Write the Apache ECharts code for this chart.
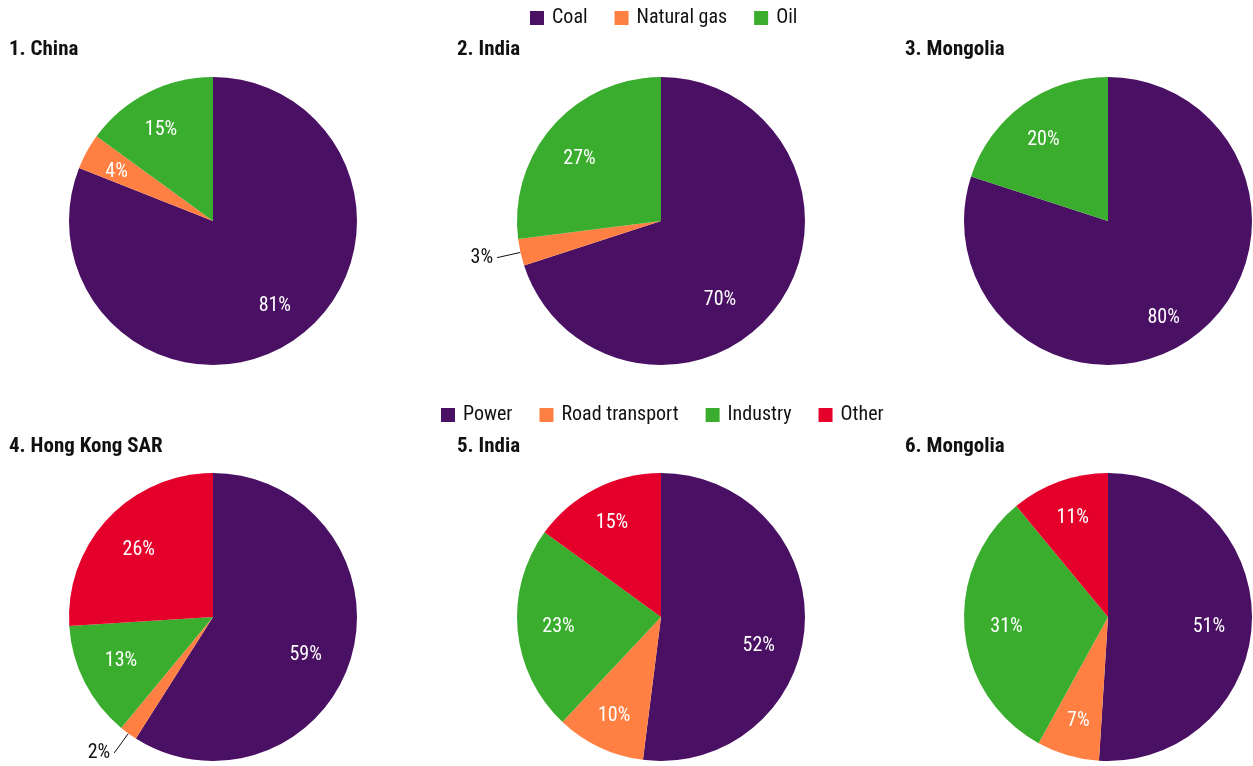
<!DOCTYPE html>
<html>
<head>
<meta charset="utf-8">
<script src="https://cdn.jsdelivr.net/npm/echarts@6/dist/echarts.min.js"></script>
<style>
  html, body { margin: 0; padding: 0; background: #fff; }
  #chart { width: 1253px; height: 766px; }
</style>
</head>
<body>
<div id="chart"></div>
<script>
const fontFamily = "'Roboto Condensed', 'DejaVu Sans Condensed', sans-serif"

// data
const fuelNames = ['Coal', 'Natural gas', 'Oil']
const sectorNames = ['Power', 'Road transport', 'Industry', 'Other']

const titles = ['1. China', '2. India', '3. Mongolia', '4. Hong Kong SAR', '5. India', '6. Mongolia']

const chinaFuel = [81, 4, 15]
const indiaFuel = [70, 3, 27]
const mongoliaFuel = [80, 0, 20]
const hongKongSector = [59, 2, 13, 26]
const indiaSector = [52, 10, 23, 15]
const mongoliaSector = [51, 7, 31, 11]

const fuelColors = ['#4a1063', '#ff8042', '#3aad2e']
const sectorColors = ['#4a1063', '#ff8042', '#3aad2e', '#e4002b']

// small label nudges so the inside labels sit where the original put them
const labelNudges = [
  [[0, -6], [0, 4], [-2, 7]],
  [[-30, 14], [0, 0], [1, 11]],
  [[-9, 8], [0, 0], [0, 8]],
  [[-13, 7], [0, 0], [6, -6], [6, 8]],
  [[-12, 22], [0, -1], [7, 0], [1, 4]],
  [[-9, 7], [1, -2], [8, 0], [2, 4]]
]

const panels = [
  { names: fuelNames, values: chinaFuel, colors: fuelColors, center: [213, 221] },
  { names: fuelNames, values: indiaFuel, colors: fuelColors, center: [661, 221] },
  { names: fuelNames, values: mongoliaFuel, colors: fuelColors, center: [1108, 221] },
  { names: sectorNames, values: hongKongSector, colors: sectorColors, center: [213, 617] },
  { names: sectorNames, values: indiaSector, colors: sectorColors, center: [661, 617] },
  { names: sectorNames, values: mongoliaSector, colors: sectorColors, center: [1108, 617] }
]

const radius = 144
const smallSlice = 3 // slices this small get an outside label

const series = []
panels.forEach((p, k) => {
  // the visible pie, outside labels for tiny slices only
  series.push({
    type: 'pie',
    center: p.center,
    radius: [0, radius],
    startAngle: 90,
    clockwise: true,
    avoidLabelOverlap: false,
    emphasis: { disabled: true },
    data: p.names.map((n, i) => ({
      name: n,
      value: p.values[i],
      itemStyle: { color: p.colors[i] },
      label: { show: p.values[i] > 0 && p.values[i] <= smallSlice },
      labelLine: { show: p.values[i] > 0 && p.values[i] <= smallSlice }
    })),
    label: {
      position: 'outside',
      formatter: '{c}%',
      color: '#111',
      fontFamily,
      fontSize: 20,
      distanceToLabelLine: 4
    },
    labelLine: {
      length: 24,
      length2: 0,
      lineStyle: { color: '#111', width: 1 }
    }
  })
  // transparent ring that carries the inside labels further out
  series.push({
    type: 'pie',
    center: p.center,
    radius: [70, radius],
    startAngle: 90,
    clockwise: true,
    silent: true,
    avoidLabelOverlap: false,
    data: p.names.map((n, i) => ({
      name: n,
      value: p.values[i],
      itemStyle: { color: 'rgba(0,0,0,0)' },
      label: { show: p.values[i] > smallSlice, offset: labelNudges[k][i] }
    })),
    label: {
      position: 'inside',
      formatter: '{c}%',
      color: '#fff',
      fontFamily,
      fontSize: 20
    },
    labelLine: { show: false }
  })
})

const titlePos = [[9, 39], [457, 39], [905, 39], [9, 436], [457, 436], [905, 436]]

const legendBase = {
  icon: 'rect',
  itemWidth: 14,
  itemHeight: 14,
  itemGap: 27,
  selectedMode: false,
  textStyle: { fontFamily, fontSize: 20, color: '#111', padding: [0, 0, 0, 3] }
}

const option = {
  animation: false,
  title: titles.map((t, i) => ({
    text: t,
    left: titlePos[i][0],
    top: titlePos[i][1],
    padding: 0,
    textStyle: { fontFamily, fontSize: 21, fontWeight: 'bold', color: '#111' }
  })),
  legend: [
    Object.assign({ data: fuelNames, top: 3, left: 525 }, legendBase),
    Object.assign({ data: sectorNames, top: 400, left: 436 }, legendBase)
  ],
  series
}

const chart = echarts.init(document.getElementById('chart'))
chart.setOption(option)
window.addEventListener('resize', () => chart.resize())
</script>
</body>
</html>
